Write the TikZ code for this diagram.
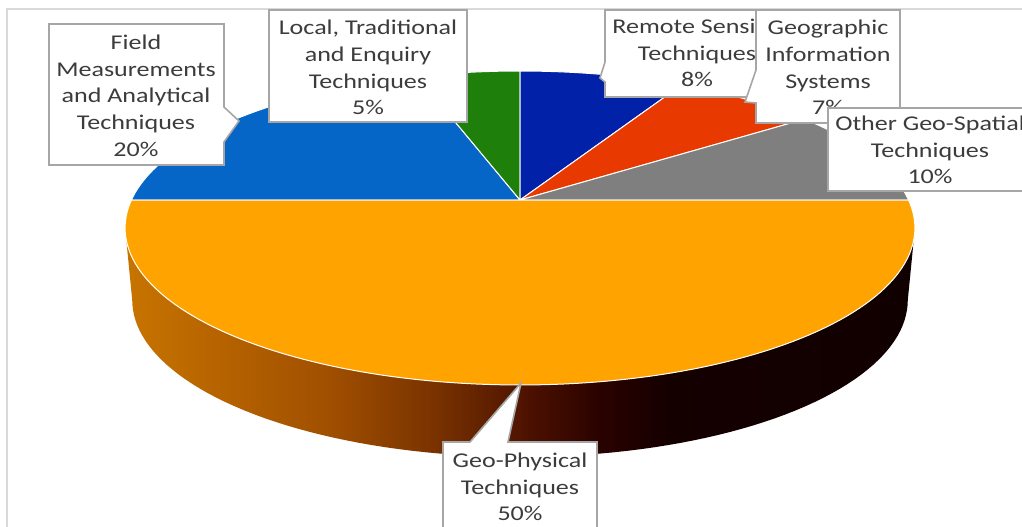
\documentclass[tikz,border=0pt]{standalone}
\usepackage{fontspec}
\setmainfont{Carlito}[FakeStretch=1.24]
\definecolor{fieldblue}{RGB}{5,102,200}
\definecolor{localgreen}{RGB}{30,128,10}
\definecolor{remoteblue}{RGB}{0,33,168}
\definecolor{gisred}{RGB}{232,58,0}
\definecolor{othergray}{RGB}{127,127,127}
\definecolor{geoorange}{RGB}{255,163,0}
\definecolor{boxgray}{RGB}{166,166,166}
\definecolor{framegray}{RGB}{217,217,217}
\definecolor{labeltext}{RGB}{60,60,60}
\definecolor{sideA}{RGB}{200,116,0}
\definecolor{sideB}{RGB}{160,79,0}
\definecolor{sideC}{RGB}{122,51,0}
\definecolor{sideD}{RGB}{74,16,0}
\definecolor{sideE}{RGB}{42,2,0}
\definecolor{sideF}{RGB}{21,0,0}
\definecolor{sideG}{RGB}{17,0,0}
% colour of the pie's curved front wall, left to right
\pgfdeclarehorizontalshading{sideshade}{100bp}{color(0bp)=(sideA); color(25bp)=(sideA); color(38bp)=(sideB); color(44.5bp)=(sideC); color(50.8bp)=(sideD); color(55bp)=(sideE); color(59.3bp)=(sideF); color(75bp)=(sideG); color(100bp)=(sideG)}
\newcommand\lblfont{\fontsize{21}{26.6}\selectfont}
\tikzset{
  slice/.style={draw=white, line width=1pt, line join=round},
  callout/.style={fill=white, draw=boxgray, line width=1.6pt, line join=miter},
  lbl/.style={font=\lblfont, text=labeltext, align=center, inner sep=0pt},
}
\begin{document}
\begin{tikzpicture}[x=1pt,y=-1pt,
  declare function={pxf(\t)=520+388.6*cos(\t)/(1+0.1783*sin(\t));
                    pyf(\t)=200-152*sin(\t)/(1+0.1783*sin(\t));
                    bxf(\t)=520+0.982*(pxf(\t)-520);
                    byf(\t)=pyf(\t)+72;}]
\useasboundingbox (0,0) rectangle (1022,527);
\clip (0,0) rectangle (1022,527);

% chart frame
\draw[framegray, line width=2pt] (7,560) -- (7,9) -- (1060,9);

\coordinate (apex) at (520,200);

% front wall of the Geo-Physical slice
\shade[shading=sideshade]
  plot[domain=190.3:349.7, samples=90] ({pxf(\x)},{pyf(\x)})
  -- plot[domain=349.7:190.3, samples=90] ({bxf(\x)},{byf(\x)}) -- cycle;

% top faces of the slices
\filldraw[slice, fill=fieldblue] (apex) -- plot[domain=180:108, samples=50] ({pxf(\x)},{pyf(\x)}) -- cycle;
\filldraw[slice, fill=localgreen] (apex) -- plot[domain=108:90, samples=20] ({pxf(\x)},{pyf(\x)}) -- cycle;
\filldraw[slice, fill=remoteblue] (apex) -- plot[domain=90:61.2, samples=25] ({pxf(\x)},{pyf(\x)}) -- cycle;
\filldraw[slice, fill=gisred] (apex) -- plot[domain=61.2:36, samples=25] ({pxf(\x)},{pyf(\x)}) -- cycle;
\filldraw[slice, fill=othergray] (apex) -- plot[domain=36:0, samples=30] ({pxf(\x)},{pyf(\x)}) -- cycle;
\filldraw[slice, fill=geoorange] (apex) -- plot[domain=180:360, samples=120] ({pxf(\x)},{pyf(\x)}) -- cycle;

% data labels
\draw[callout] (49,24) -- (224,24) -- (224,107) -- (239,121) -- (224,142) -- (224,165) -- (49,165) -- cycle;
\node[lbl] (field) at (136,97.5) {\strut Field\\\strut Measurements\\\strut and Analytical\\\strut Techniques\\\strut 20\%};

\draw[callout] (269,10) rectangle (467,122);
\node[lbl] (local) at (368,69.5) {\strut Local, Traditional\\\strut and Enquiry\\\strut Techniques\\\strut 5\%};

\draw[callout] (605,10) -- (790,10) -- (790,97) -- (605,97) -- (605,82) -- (600,78) -- (605,62) -- cycle;
\node[lbl] (remote) at (697,55) {\strut Remote Sensing\\\strut Techniques\\\strut 8\%};

\draw[callout] (756,10) -- (900,10) -- (900,123) -- (756,123) -- (756,103) -- (745,102) -- (756,70) -- cycle;
\node[lbl] (gis) at (828,69.5) {\strut Geographic\\\strut Information\\\strut Systems\\\strut 7\%};

\draw[callout] (828,108) rectangle (1040,191);
\node[lbl] (other) at (930,152) {\strut Other Geo-Spatial\\\strut Techniques\\\strut 10\%};

\draw[callout] (443,442) -- (470,442) -- (521,383) -- (508,442) -- (597,442) -- (597,560) -- (443,560) -- cycle;
\node[lbl] (geo) at (520,488.7) {\strut Geo-Physical\\\strut Techniques\\\strut 50\%};
\end{tikzpicture}
\end{document}
